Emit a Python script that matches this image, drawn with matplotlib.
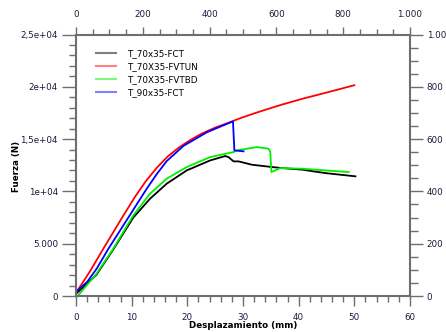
import matplotlib
matplotlib.use('Agg')
import matplotlib.pyplot as plt
from matplotlib.ticker import FixedLocator, FixedFormatter, MultipleLocator

# T_70x35-FCT
black_x = [0, 3.7, 6.7, 10.3, 13.3, 16.3, 19.9, 24.1, 26.8, 27.4, 28.3, 29.2, 31.6, 35.2, 37.0, 40.6, 44.8, 50.2]
black_y = [200, 2050, 4450, 7500, 9300, 10740, 12010, 12960, 13380, 13280, 12870, 12870, 12550, 12330, 12230, 12080, 11750, 11440]

# T_70X35-FVTUN
red_x = [0, 2.5, 5, 8, 10.5, 12.5, 14.5, 16.5, 18.5, 20.5, 22.5, 25, 27.7, 29.5, 33.1, 37, 41, 45, 50]
red_y = [300, 2350, 4600, 7250, 9400, 10950, 12250, 13350, 14200, 14900, 15500, 16100, 16620, 17000, 17650, 18300, 18900, 19450, 20150]

# T_70X35-FVTBD
green_x = [0.3, 3.7, 6.7, 10.3, 13.3, 16.3, 19.9, 24.1, 28.3, 28.9, 32.5, 34.6, 34.9, 35.1, 35.8, 36.7, 40.6, 44.8, 49.0]
green_y = [0, 2140, 4530, 7710, 9780, 11220, 12330, 13280, 13760, 13920, 14240, 14080, 13760, 11850, 12010, 12230, 12170, 12010, 11850]

# T_90x35-FCT
blue_x = [0, 2, 3.7, 5.8, 9.1, 12.7, 14.5, 16.3, 19.3, 23.5, 28.2, 28.45, 30.1]
blue_y = [400, 1350, 2600, 4500, 7250, 10250, 11650, 12900, 14350, 15650, 16700, 13920, 13830]

series_names = ['T_70x35-FCT', 'T_70X35-FVTUN', 'T_70X35-FVTBD', 'T_90x35-FCT']

x_ticks = [0, 10, 20, 30, 40, 50, 60]
x_labels = ['0', '10', '20', '30', '40', '50', '60']
y_ticks = [0, 5000, 10000, 15000, 20000, 25000]
y_labels = ['0', '5.000', '1e+04', '1,5e+04', '2e+04', '2,5e+04']
sec_ticks = [0, 200, 400, 600, 800, 1000]
sec_labels = ['0', '200', '400', '600', '800', '1.000']

gc = '#6e6e6e'
tc = '#1a1a3c'
fs = 6.3

fig = plt.figure(figsize=(4.46, 3.32), dpi=100)
ax = fig.add_axes([76 / 446, 36 / 332, 334 / 446, 261.5 / 332])

ax.plot(black_x, black_y, color='black', lw=1.3, label=series_names[0])
ax.plot(red_x, red_y, color='#ff0000', lw=1.3, label=series_names[1])
ax.plot(green_x, green_y, color='#00ee00', lw=1.3, label=series_names[2])
ax.plot(blue_x, blue_y, color='#0000ff', lw=1.3, label=series_names[3])

ax.set_xlim(0, 60)
ax.set_ylim(0, 25000)
ax.xaxis.set_major_locator(FixedLocator(x_ticks))
ax.xaxis.set_major_formatter(FixedFormatter(x_labels))
ax.xaxis.set_minor_locator(MultipleLocator(2))
ax.yaxis.set_major_locator(FixedLocator(y_ticks))
ax.yaxis.set_major_formatter(FixedFormatter(y_labels))
ax.yaxis.set_minor_locator(MultipleLocator(1000))

for s in ax.spines.values():
    s.set_color(gc)
    s.set_linewidth(1.5)

ax.tick_params(axis='x', which='major', direction='out', length=7, width=1, color=gc,
               labelsize=fs, labelcolor=tc, pad=5)
ax.tick_params(axis='x', which='minor', direction='out', length=4, width=1, color=gc)
ax.tick_params(axis='y', which='major', direction='out', length=10, width=1, color=gc,
               labelsize=fs, labelcolor=tc, pad=3)
ax.tick_params(axis='y', which='minor', direction='out', length=5, width=1, color=gc)

axt = ax.twiny()
axt.set_xlim(0, 1000)
axt.xaxis.set_major_locator(FixedLocator(sec_ticks))
axt.xaxis.set_major_formatter(FixedFormatter(sec_labels))
axt.xaxis.set_minor_locator(MultipleLocator(50))
axt.tick_params(axis='x', which='major', direction='out', length=6, width=1, color=gc,
                labelsize=fs, labelcolor=tc, pad=5)
axt.tick_params(axis='x', which='minor', direction='out', length=4, width=1, color=gc)

axr = ax.twinx()
axr.set_ylim(0, 1000)
axr.yaxis.set_major_locator(FixedLocator(sec_ticks))
axr.yaxis.set_major_formatter(FixedFormatter(sec_labels))
axr.yaxis.set_minor_locator(MultipleLocator(50))
axr.tick_params(axis='y', which='major', direction='out', length=9, width=1, color=gc,
                labelsize=fs, labelcolor=tc, pad=3)
axr.tick_params(axis='y', which='minor', direction='out', length=6, width=1, color=gc)

for a in (axt, axr):
    for s in a.spines.values():
        s.set_visible(False)

leg = ax.legend(loc='upper left', bbox_to_anchor=(96 / 446, 1 - 49 / 332),
                bbox_transform=fig.transFigure, frameon=False, fontsize=fs,
                handlelength=2.3, handletextpad=1.2, labelspacing=0.45,
                borderpad=0, borderaxespad=0)
for h in leg.legend_handles:
    h.set_alpha(0.5)
    h.set_linewidth(1.5)

fig.text(16.5 / 446, 0.5, 'Fuerza (N)', rotation=90, ha='center', va='center',
         fontsize=fs, fontweight='bold')
fig.text(243 / 446, 6.5 / 332, 'Desplazamiento (mm)', ha='center', va='center',
         fontsize=fs, fontweight='bold')

fig.savefig('out.png', dpi=100)
